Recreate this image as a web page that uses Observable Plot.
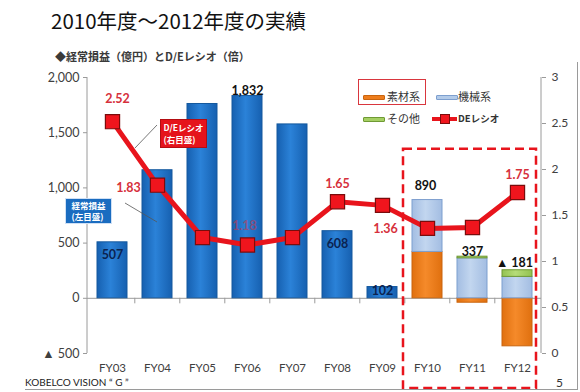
<!DOCTYPE html>
<html><head><meta charset="utf-8">
<script src="https://cdn.jsdelivr.net/npm/d3@7"></script>
<script src="https://cdn.jsdelivr.net/npm/@observablehq/plot@0.6"></script>
<style>
html,body{margin:0;padding:0;background:#fff;}
#wrap{position:relative;width:580px;height:392px;overflow:hidden;background:#fff;}
.jp{font-family:"Noto Sans CJK JP",sans-serif;}
.abs{position:absolute;white-space:nowrap;line-height:1;}
#title{left:51px;top:10px;font-size:20.5px;color:#111;}
#sub{left:55px;top:51px;font-size:11px;font-weight:bold;color:#3a3a3a;}
#chart{position:absolute;left:0;top:64px;}
.box{display:flex;flex-direction:column;align-items:center;justify-content:center;color:#fff;font-weight:bold;font-size:8.5px;line-height:1.3;box-sizing:border-box;}
.sw{position:absolute;height:5px;width:22px;box-sizing:border-box;border-radius:1px;}
.lg{font-size:11px;color:#333;}
</style></head>
<body>
<div id="wrap">
  <div id="title" class="abs jp">2010年度～2012年度の実績</div>
  <div id="sub" class="abs jp">◆経常損益（億円）とD/Eレシオ（倍）</div>
  <div id="chart"></div>
  <!-- legend -->
  <div class="abs" style="left:358px;top:79px;width:68px;height:26px;border:1.5px solid #d9363e;box-sizing:border-box;"></div>
  <div class="sw" style="left:363px;top:95px;background:#ee7d1c;border:1px solid #c9650e;"></div>
  <div class="abs jp lg" style="left:387px;top:91px;">素材系</div>
  <div class="sw" style="left:436px;top:95px;background:#b3cbe9;border:1px solid #7d9fcf;"></div>
  <div class="abs jp lg" style="left:458px;top:91px;">機械系</div>
  <div class="sw" style="left:363px;top:117px;background:#a5cf63;border:1px solid #6f9a34;"></div>
  <div class="abs jp lg" style="left:387px;top:113px;">その他</div>
  <div class="abs" style="left:432px;top:117px;width:25px;height:4px;background:#e8141c;"></div>
  <div class="abs" style="left:440px;top:114px;width:10px;height:10px;background:#f0151d;border:1px solid #7a0c0c;box-sizing:border-box;"></div>
  <div class="abs jp" style="left:458px;top:114px;font-size:9.5px;font-weight:bold;color:#333;">DEレシオ</div>
  <!-- callouts -->
  <div class="abs box jp" style="left:160px;top:119px;width:47px;height:29px;background:#e5131b;border:1px solid #b30d12;">D/Eレシオ<br>(右目盛)</div>
  <div class="abs box jp" style="left:65px;top:198px;width:47px;height:26px;background:#1a6cc0;border:1px solid #cfe0f5;">経常損益<br>(左目盛)</div>
  <!-- footer -->
  <div class="abs" style="left:25px;top:377px;font-family:Lato,sans-serif;font-size:10px;color:#222;">KOBELCO VISION “ G ”</div>
  <div class="abs" style="left:25px;top:389px;width:553px;height:1px;background:#9a9a9a;"></div>
  <div class="abs" style="left:577px;top:62px;width:1px;height:328px;background:#9a9a9a;"></div>
  <div class="abs" style="left:556px;top:377px;font-family:Lato,sans-serif;font-size:12px;color:#333;">5</div>
</div>
<script>
// ---- data ----
const years = ["FY03","FY04","FY05","FY06","FY07","FY08","FY09","FY10","FY11","FY12"];
const profit = [507, 1160, 1760, 1832, 1575, 608, 102, null, null, null];
const segYears = ["FY10","FY11","FY12"];
const segNames = ["素材系","機械系","その他"];
const materials = [420, -40, -435];
const machinery = [470, 362, 194];
const others = [0, 15, 60];
const deRatio = [2.52, 1.83, 1.26, 1.18, 1.26, 1.65, 1.61, 1.36, 1.37, 1.75];
const profitText = ["507","","","1,832","","608","102","890","337","▲ 181"];
const deText = ["2.52","1.83","","1.18","","1.65","","1.36","","1.75"];
const leftTicks = [-500, 0, 500, 1000, 1500, 2000];
const leftTickText = ["▲ 500","0","500","1,000","1,500","2,000"];
const rightTicks = [0, 0.5, 1, 1.5, 2, 2.5, 3];
const rightTickText = ["0","0.5","1","1.5","2","2.5","3"];

// ---- helpers ----
const toLeft = r => -500 + r * 2500 / 3;   // right-axis value -> left-axis units
const segColor = {"素材系":["url(#gOrange)","#c9650e"], "機械系":["url(#gBlueL)","#7d9fcf"], "その他":["url(#gGreen)","#6f9a34"]};

const profitRows = years.map((y,i)=>({year:y, value:profit[i]})).filter(d=>d.value!=null);
const segRows = [];
const segVals = [materials, machinery, others];
segYears.forEach((yr,i)=>{
  let pos=0, neg=0;
  segVals.forEach((arr,j)=>{
    const v = arr[i]; if (!v) return;
    let y1,y2;
    if (v>0){y1=pos;y2=pos+v;pos=y2;} else {y1=neg;y2=neg+v;neg=y2;}
    segRows.push({year:yr, seg:segNames[j], y1, y2});
  });
});
const topOf = (yr,i) => profit[i]!=null ? profit[i] : segVals.reduce((s,a)=>s+Math.max(0,a[segYears.indexOf(yr)]),0);
const deRows = years.map((y,i)=>({year:y, de:deRatio[i]}));

// label placement (style)
const pOff = {FY03:[0,13,"#0b2350"], FY06:[0,-5,"#111"], FY08:[0,13,"#0b2350"], FY09:[0,4,"#0b2350"], FY10:[-2,-14,"#111"], FY11:[0,-5,"#111"], FY12:[-3,-7,"#111"]};
const dOff = {FY03:[5,-23,1], FY04:[-29,3,1], FY06:[-3,-19,0.55], FY08:[0,-18,1], FY10:[-42,1,1], FY12:[0,-18,1]};

function defs() {
  const d = d3.create("svg:defs");
  const grad = (id, stops) => {
    const lg = d.append("linearGradient").attr("id", id).attr("x1","0").attr("x2","1").attr("y1","0").attr("y2","0");
    stops.forEach(([o,c]) => lg.append("stop").attr("offset", o).attr("stop-color", c));
  };
  grad("gBlue", [["0","#1660b0"],["0.45","#2b82d8"],["1","#1660b0"]]);
  grad("gOrange", [["0","#e0700f"],["0.45","#f58a2a"],["1","#e0700f"]]);
  grad("gBlueL", [["0","#a3bde2"],["0.45","#c2d6ef"],["1","#a3bde2"]]);
  grad("gGreen", [["0","#93c251"],["0.45","#b5dc78"],["1","#93c251"]]);
  return d.node();
}

const marks = [defs];
marks.push(Plot.ruleY([0], {stroke:"#9a9a9a", strokeWidth:1}));
marks.push(Plot.ruleX(years.slice(1), {x:d=>d, y1:0, y2:-50, dx:-22.7, stroke:"#9a9a9a"}));
marks.push(Plot.barY(profitRows, {x:"year", y:"value", fill:"url(#gBlue)", stroke:"#15599e", strokeWidth:1}));
segNames.forEach(s=>{
  marks.push(Plot.barY(segRows.filter(d=>d.seg===s), {x:"year", y1:"y1", y2:"y2", fill:segColor[s][0], stroke:segColor[s][1], strokeWidth:1}));
});
years.forEach((yr,i)=>{
  if (!profitText[i]) return;
  const o = pOff[yr];
  marks.push(Plot.text([{year:yr, v:topOf(yr,i), t:profitText[i]}], {x:"year", y:"v", text:"t", dx:o[0], dy:o[1], fill:o[2], fontWeight:"bold", fontSize:12.5, lineAnchor:"middle", fontFamily:"Lato, sans-serif"}));
});
marks.push(Plot.line(deRows, {x:"year", y:d=>toLeft(d.de), stroke:"#e8141c", strokeWidth:5, strokeLinejoin:"round"}));
marks.push(Plot.dot(deRows, {x:"year", y:d=>toLeft(d.de), symbol:"square", r:8, fill:"#f0151d", stroke:"#7a0c0c", strokeWidth:1.2}));
years.forEach((yr,i)=>{
  if (!deText[i]) return;
  const o = dOff[yr];
  marks.push(Plot.text([{year:yr, v:toLeft(deRatio[i]), t:deText[i]}], {x:"year", y:"v", text:"t", dx:o[0], dy:o[1], fill:"#d6303c", fillOpacity:o[2], fontWeight:"bold", fontSize:12.5, lineAnchor:"middle", fontFamily:"Lato, sans-serif"}));
});
marks.push(Plot.axisY(leftTicks, {anchor:"left", label:null, tickSize:4, tickPadding:4, fontSize:12.5, stroke:"#9a9a9a",
  tickFormat: v => leftTickText[leftTicks.indexOf(v)]}));
marks.push(Plot.axisY(rightTicks.map(toLeft), {anchor:"right", label:null, tickSize:4, tickPadding:6, fontSize:12, stroke:"#9a9a9a",
  tickFormat: v => rightTickText[rightTicks.findIndex(r=>Math.abs(toLeft(r)-v)<1e-6)]}));
marks.push(Plot.axisX({anchor:"bottom", label:null, tickSize:0, tickPadding:10, fontSize:11.5}));

const chart = Plot.plot({
  width:580, height:328,
  marginLeft:87, marginRight:39, marginTop:13, marginBottom:39,
  style:{fontFamily:"Lato, sans-serif", color:"#404040", background:"transparent", overflow:"visible"},
  x:{type:"band", domain:years, paddingInner:0.34, paddingOuter:0.17},
  y:{domain:[-500,2000], label:null},
  marks
});
document.getElementById("chart").append(chart);

// overlay: axis lines, dashed highlight box, leader lines
const sx = chart.scale("x"), sy = chart.scale("y");
const svg = d3.select(chart);
const g = svg.append("g");
const [xl, xr] = sx.range;
g.append("line").attr("x1",xl).attr("x2",xl).attr("y1",sy.apply(2000)).attr("y2",sy.apply(-500)).attr("stroke","#9a9a9a");
g.append("line").attr("x1",xr).attr("x2",xr).attr("y1",sy.apply(2000)).attr("y2",sy.apply(-500)).attr("stroke","#9a9a9a");
const bx1 = sx.apply("FY10") - 9, bx2 = sx.apply("FY12") + sx.bandwidth + 4;
g.append("rect").attr("x",bx1).attr("y",sy.apply(1350)).attr("width",bx2-bx1).attr("height",sy.apply(-500)+35-sy.apply(1350))
  .attr("fill","none").attr("stroke","#e8141c").attr("stroke-width",2.5).attr("stroke-dasharray","9,5");
g.append("line").attr("x1",157).attr("y1",61).attr("x2",135).attr("y2",84).attr("stroke","#555").attr("stroke-width",0.8);
g.append("line").attr("x1",125).attr("y1",139).attr("x2",157).attr("y2",158).attr("stroke","#555").attr("stroke-width",0.8);
</script>
</body></html>
